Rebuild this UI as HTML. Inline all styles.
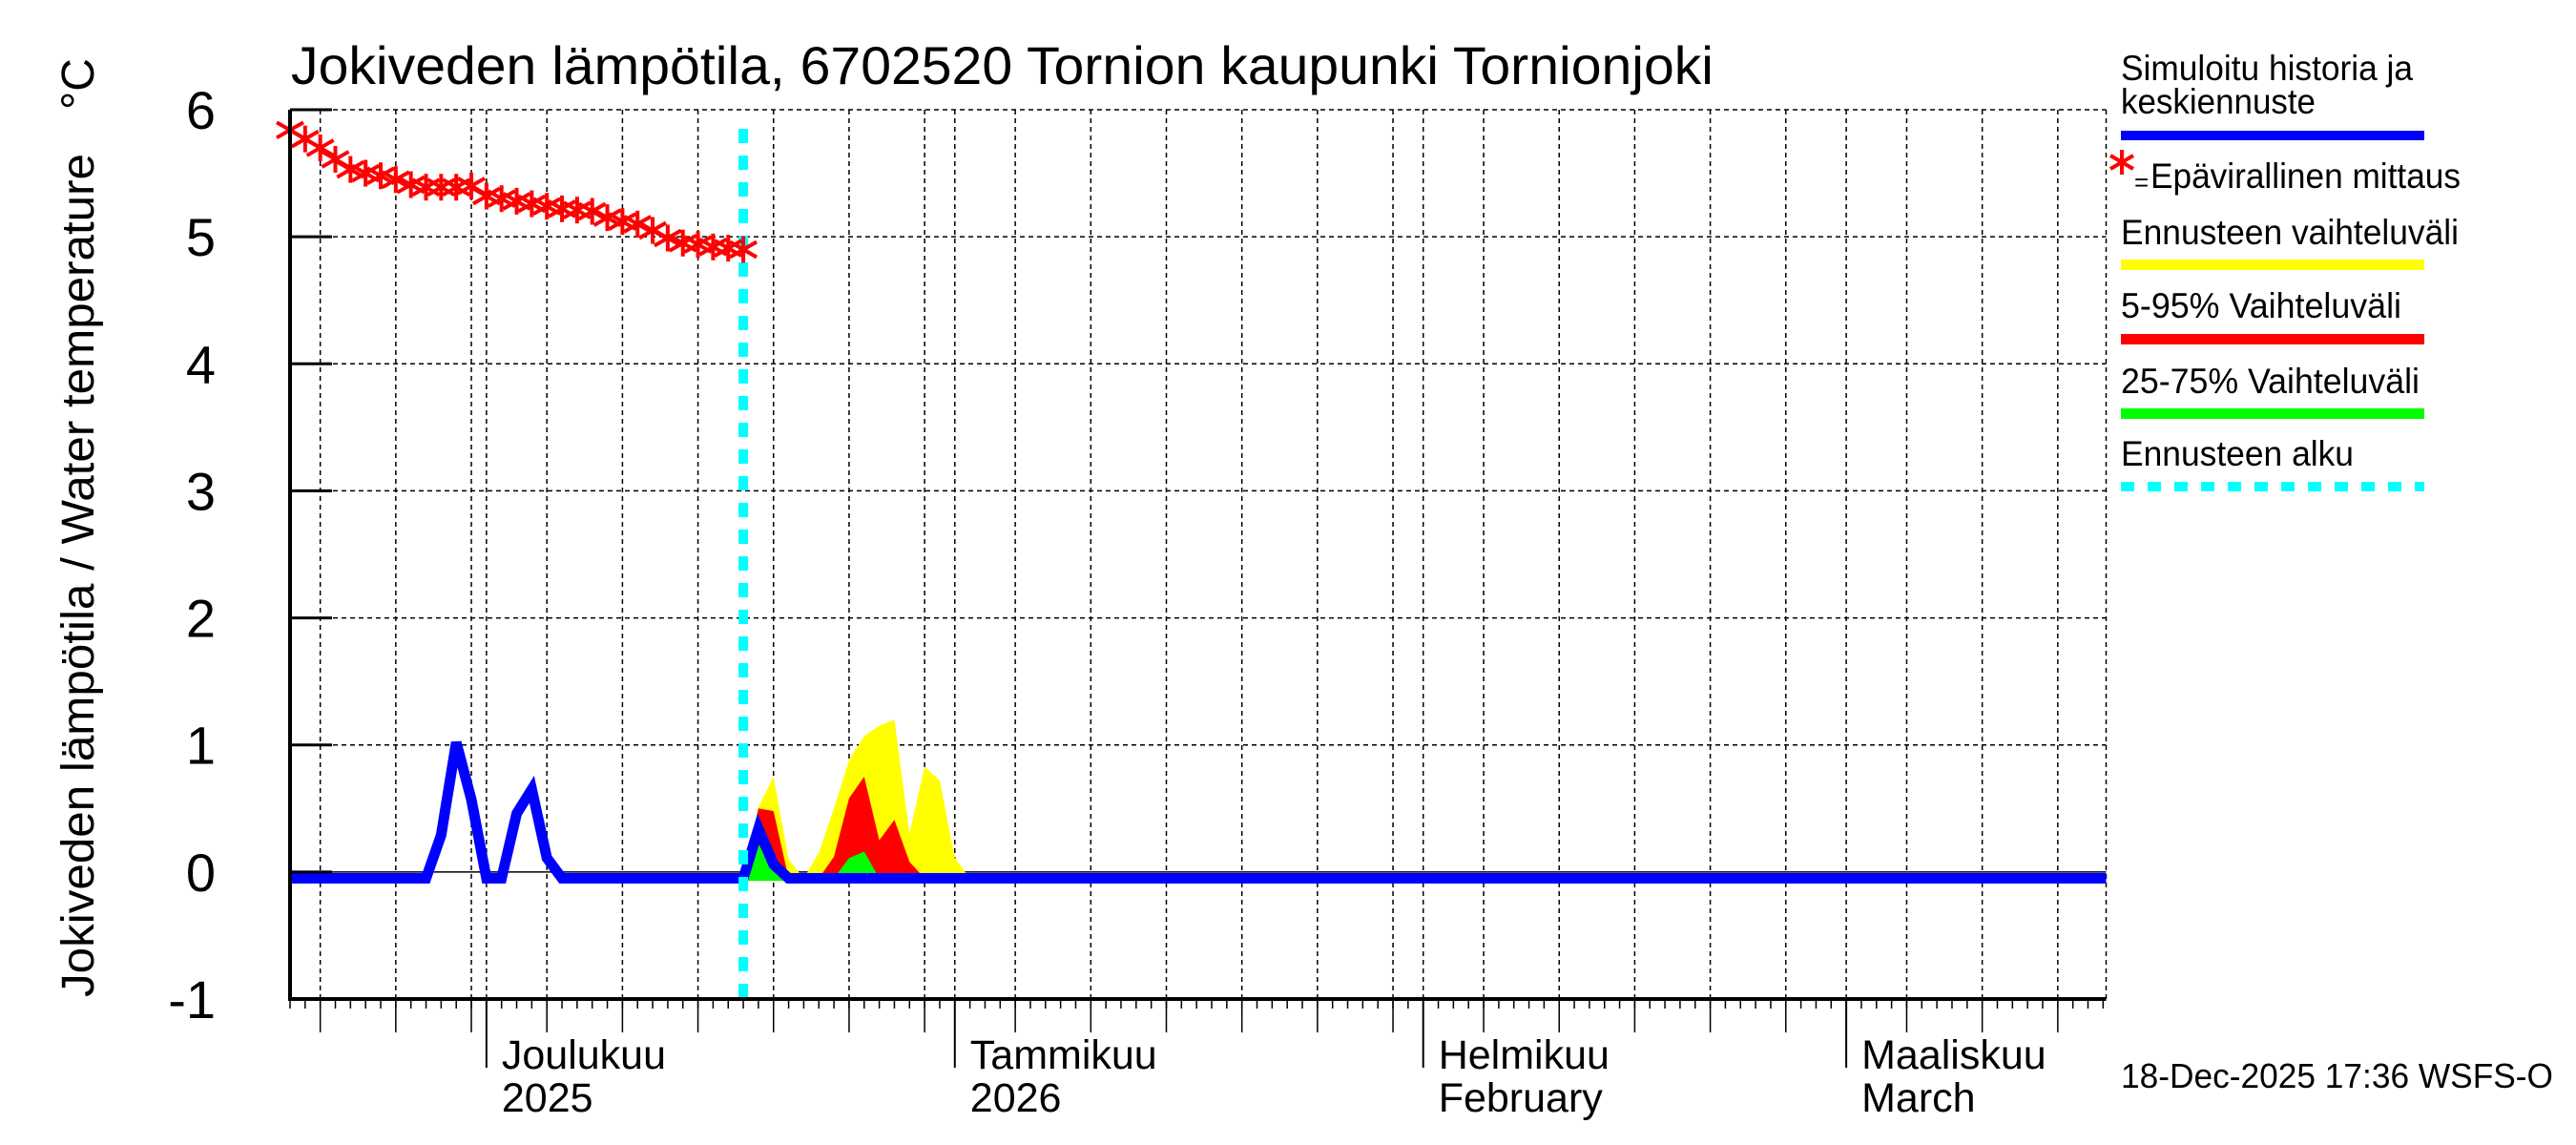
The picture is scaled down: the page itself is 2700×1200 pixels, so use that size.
<!DOCTYPE html>
<html><head><meta charset="utf-8"><style>
html,body{margin:0;padding:0;background:#fff;}
svg{display:block;font-family:"Liberation Sans",Arial,sans-serif;}
</style></head><body>
<svg id="chart" width="2700" height="1200" viewBox="0 0 2700 1200" xmlns="http://www.w3.org/2000/svg">
<g id="grid"></g>
<g id="bands"></g>
<g id="lines"></g>
<g id="axes"></g>
<text x="305" y="88" font-size="56" textLength="1491" lengthAdjust="spacingAndGlyphs">Jokiveden lämpötila, 6702520 Tornion kaupunki Tornionjoki</text>
<text transform="translate(98,603) rotate(-90)" text-anchor="middle" font-size="48" textLength="884" lengthAdjust="spacingAndGlyphs">Jokiveden lämpötila / Water temperature</text>
<text transform="translate(98,88) rotate(-90)" text-anchor="middle" font-size="48">°C</text>
<g font-size="37">
<text x="2223" y="84" textLength="306" lengthAdjust="spacingAndGlyphs">Simuloitu historia ja</text>
<text x="2223" y="119" textLength="204" lengthAdjust="spacingAndGlyphs">keskiennuste</text>
<rect x="2223" y="137" width="318" height="10" fill="#0000ff"/>
<g stroke="#ff0000" stroke-width="4">
<line x1="2224" y1="157" x2="2224" y2="183"/><line x1="2212" y1="163" x2="2236" y2="177"/><line x1="2212" y1="177" x2="2236" y2="163"/></g>
<text x="2237" y="200" font-size="26">=</text>
<text x="2254" y="197" textLength="325" lengthAdjust="spacingAndGlyphs">Epävirallinen mittaus</text>
<text x="2223" y="256" textLength="354" lengthAdjust="spacingAndGlyphs">Ennusteen vaihteluväli</text>
<rect x="2223" y="272" width="318" height="11" fill="#ffff00"/>
<text x="2223" y="333" textLength="294" lengthAdjust="spacingAndGlyphs">5-95% Vaihteluväli</text>
<rect x="2223" y="350" width="318" height="11" fill="#ff0000"/>
<text x="2223" y="412" textLength="313" lengthAdjust="spacingAndGlyphs">25-75% Vaihteluväli</text>
<rect x="2223" y="428" width="318" height="11" fill="#00ff00"/>
<text x="2223" y="488" textLength="244" lengthAdjust="spacingAndGlyphs">Ennusteen alku</text>
<line x1="2223" y1="510" x2="2541" y2="510" stroke="#00ffff" stroke-width="10" stroke-dasharray="14,14"/>
</g>
<text x="2223" y="1140" font-size="36" textLength="453" lengthAdjust="spacingAndGlyphs">18-Dec-2025 17:36 WSFS-O</text>
<script>
// data: day index = days since 18-Nov-2025
const obsDays = [0,1,2,3,4,5,6,7,8,9,10,11,12,13,14,15,16,17,18,19,20,21,22,23,24,25,26,27,28,29,30];
const obsValues = [5.84,5.77,5.70,5.61,5.53,5.50,5.48,5.45,5.41,5.39,5.39,5.39,5.40,5.32,5.30,5.28,5.26,5.24,5.22,5.21,5.20,5.15,5.12,5.10,5.05,4.99,4.95,4.94,4.92,4.91,4.90];
const simDays = [0,9,10,11,12,13,14,15,16,17,18,30,31,32,33,120.2];
const simValues = [-0.05,-0.05,0.29,1.02,0.57,-0.05,-0.05,0.46,0.65,0.11,-0.05,-0.05,0.34,0.06,-0.05,-0.05];
const bandDays = [30,31,32,33,34,35,36,37,38,39,40,41,42,43,44,45];
const yellowUpper = [-0.05,0.51,0.75,0.10,-0.05,0.15,0.50,0.88,1.07,1.15,1.20,0.30,0.83,0.72,0.11,-0.05];
const redUpper = [-0.05,0.50,0.48,-0.05,-0.05,-0.05,0.12,0.58,0.75,0.25,0.41,0.08,-0.05,-0.05,-0.05,-0.05];
const greenUpper = [-0.05,0.22,0.00,-0.05,-0.05,-0.05,-0.05,0.11,0.16,-0.05,-0.05,-0.05,-0.05,-0.05,-0.05,-0.05];
const bandLower = -0.07;
const forecastStartDay = 30;
const yTicks = [-1,0,1,2,3,4,5,6];
const monthStarts = [13,44,75,103];
const monthLabels1 = ["Joulukuu","Tammikuu","Helmikuu","Maaliskuu"];
const monthLabels2 = ["2025","2026","February","March"];
const monthLens = {"-1":30,"0":31,"1":31,"2":28,"3":31};

const X0=304, X1=2207.5, D0=0, D1=120.2, Y0=1047, Y1=115, V0=-1, V1=6;
const xs = d => X0 + (d-D0)*(X1-X0)/(D1-D0);
const ys = v => Y0 - (v-V0)*(Y0-Y1)/(V1-V0);
const NS="http://www.w3.org/2000/svg";
function mk(tag, parent, attrs){const e=document.createElementNS(NS,tag);for(const k in attrs)e.setAttribute(k,attrs[k]);parent.appendChild(e);return e;}
const grid=document.getElementById('grid'), axes=document.getElementById('axes'), bands=document.getElementById('bands'), lines=document.getElementById('lines');

yTicks.forEach(v=>{
  if(v===-1) return;
  const l=mk('line',grid,{x1:X0,x2:X1,y1:ys(v),y2:ys(v),stroke:'#000','stroke-width':1.5,'stroke-dasharray':v===0?'none':'5,4'});
  
  
});
const gridDays=[];
[[ -1,-17],[0,13],[1,44],[2,75],[3,103]].forEach(([m,start])=>{
  [5,10,15,20,25,30].forEach(dd=>{ if(dd<=monthLens[m]){const d=start+dd-1; if(d>=0&&d<=D1) gridDays.push(d);} });
});
gridDays.forEach(d=>{
  const g=mk('line',grid,{x1:xs(d),x2:xs(d),y1:Y1,y2:Y0,stroke:'#000','stroke-width':1.5,'stroke-dasharray':'5,4'});
  
  
  const t=mk('line',axes,{x1:xs(d),x2:xs(d),y1:Y0,y2:Y0+35,stroke:'#000','stroke-width':1.5});
  
  
});
monthStarts.forEach((d,i)=>{
  const g=mk('line',grid,{x1:xs(d),x2:xs(d),y1:Y1,y2:Y0,stroke:'#000','stroke-width':1.5,'stroke-dasharray':'5,4'});
  
  
  const t=mk('line',axes,{x1:xs(d),x2:xs(d),y1:Y0,y2:Y0+72,stroke:'#000','stroke-width':2});
  
  
  const a=mk('text',axes,{x:xs(d)+16,y:1120,'font-size':43});
  a.textContent=monthLabels1[i];
  
  
  const b=mk('text',axes,{x:xs(d)+16,y:1165,'font-size':43});
  b.textContent=monthLabels2[i];
  
  
});
for(let d=0; d<=D1; d++){
  const t=mk('line',axes,{x1:xs(d),x2:xs(d),y1:Y0,y2:Y0+10,stroke:'#000','stroke-width':1.5});
  
  
}
const rb=mk('line',grid,{x1:X1,x2:X1,y1:Y1,y2:Y0,stroke:'#000','stroke-width':1.5,'stroke-dasharray':'5,4'});



function band(vals,color,name){
  let p='M'+xs(bandDays[0])+','+ys(bandLower);
  bandDays.forEach((d,i)=>{p+=' L'+xs(d)+','+ys(Math.max(vals[i],bandLower));});
  p+=' L'+xs(bandDays[bandDays.length-1])+','+ys(bandLower)+' Z';
  const e=mk('path',bands,{d:p,fill:color});
  
  
}
band(yellowUpper,'#ffff00','band-range');
band(redUpper,'#ff0000','band-5-95');
band(greenUpper,'#00ff00','band-25-75');

const sp=simDays.map((d,i)=>(i?'L':'M')+xs(d)+','+ys(simValues[i])).join(' ');
const sl=mk('path',lines,{d:sp,fill:'none',stroke:'#0000ff','stroke-width':11,'stroke-linejoin':'miter'});



const fs=mk('line',lines,{x1:xs(forecastStartDay),x2:xs(forecastStartDay),y1:ys(5.85),y2:Y0,stroke:'#00ffff','stroke-width':10,'stroke-dasharray':'15,13'});



obsDays.forEach((d,i)=>{
  const cx=xs(d), cy=ys(obsValues[i]);
  const g=mk('g',lines,{stroke:'#ff0000','stroke-width':4});
  
  
  mk('line',g,{x1:cx,x2:cx,y1:cy-14,y2:cy+14});
  mk('line',g,{x1:cx-14,x2:cx+14,y1:cy-8,y2:cy+8});
  mk('line',g,{x1:cx-14,x2:cx+14,y1:cy+8,y2:cy-8});
});

const ax=mk('path',axes,{d:`M${X0},${Y1} L${X0},${Y0} L${X1},${Y0}`,fill:'none',stroke:'#000','stroke-width':4});


yTicks.forEach(v=>{
  const t=mk('line',axes,{x1:X0,x2:X0+44,y1:ys(v),y2:ys(v),stroke:'#000','stroke-width':3});
  
  
  const l=mk('text',axes,{x:226,y:ys(v)+20,'font-size':56,'text-anchor':'end'});
  l.textContent=String(v);
  
  
});
</script>
</svg>
</body></html>
